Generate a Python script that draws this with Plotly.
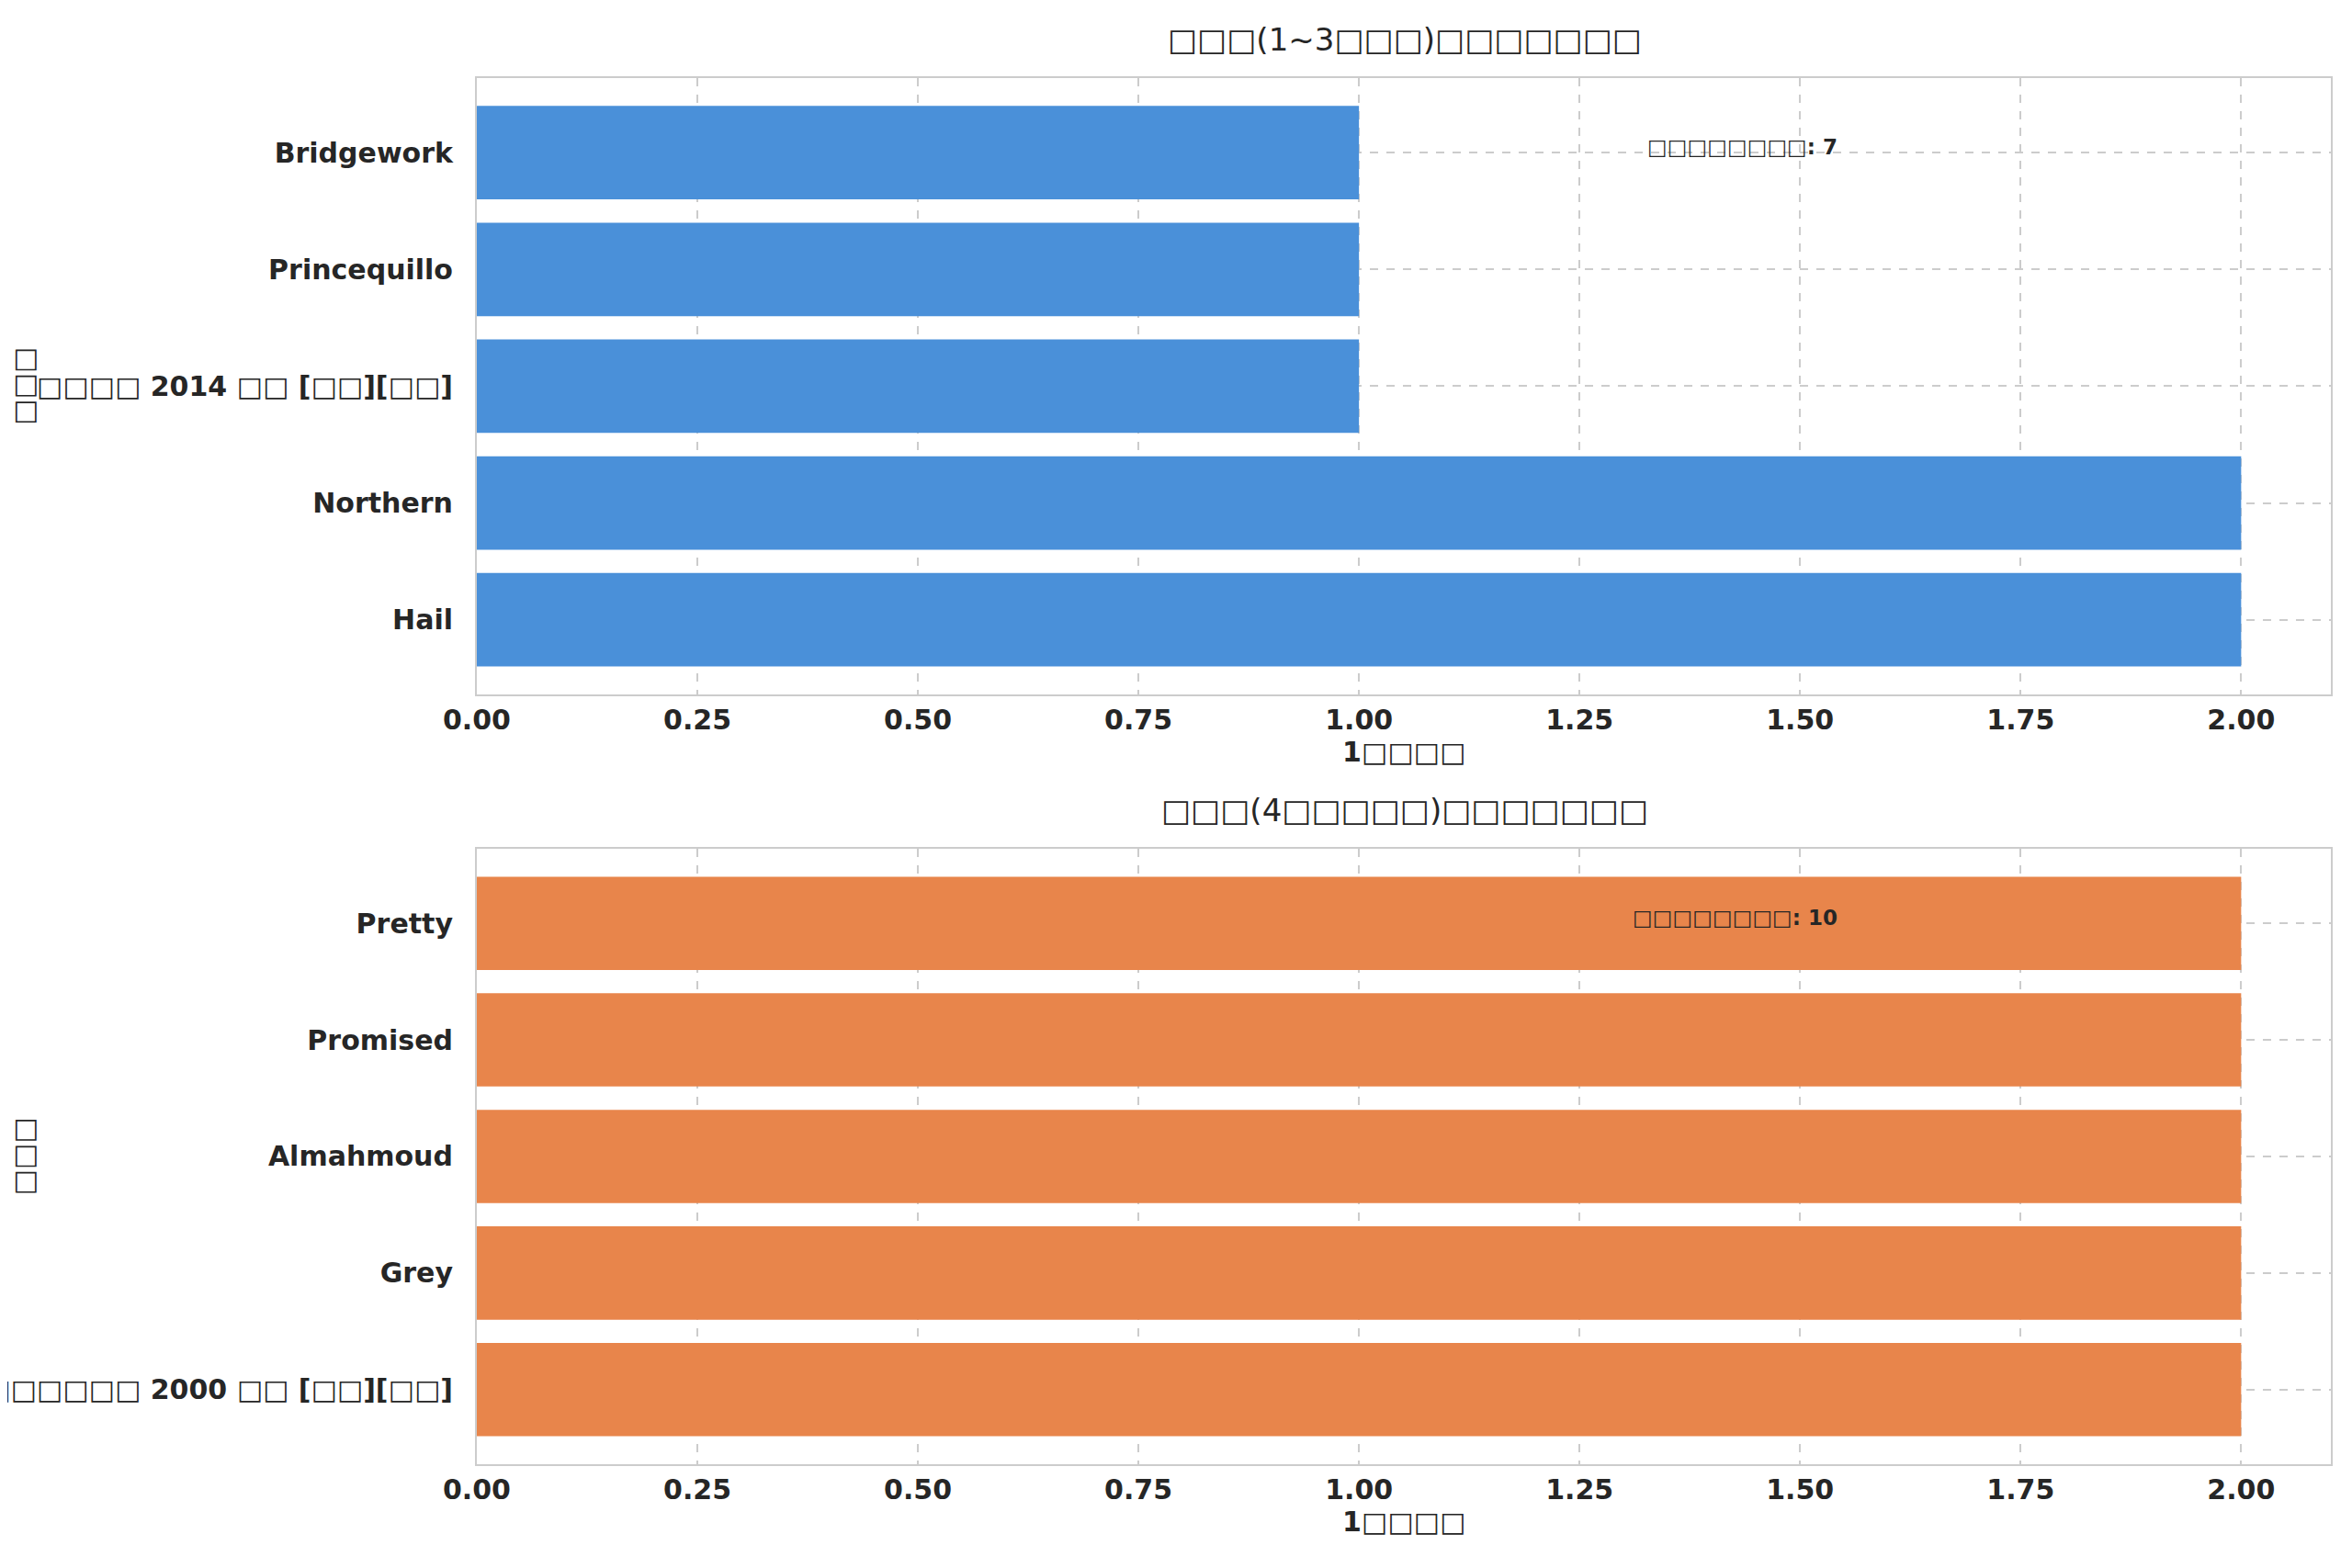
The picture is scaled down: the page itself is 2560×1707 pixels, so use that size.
import plotly.graph_objects as go
from plotly.subplots import make_subplots

# CJK glyphs in the reference render as missing-glyph boxes
top_names = ["Hail", "Northern", "□□□□ 2014 □□ [□□][□□]", "Princequillo", "Bridgework"]
top_values = [2, 2, 1, 1, 1]
bottom_names = ["□□□□□□□□□ 2000 □□ [□□][□□]", "Grey", "Almahmoud", "Promised", "Pretty"]
bottom_values = [2, 2, 2, 2, 2]
titles = ["□□□(1~3□□□)□□□□□□□", "□□□(4□□□□□)□□□□□□□"]
notes = ["□□□□□□□□: 7", "□□□□□□□□: 10"]
xlab = "1□□□□"
ylab = "□□□"
colors = ["#4a90d9", "#e8854b"]

fig = make_subplots(rows=2, cols=1)
font = "DejaVu Sans"
for i, (names, vals) in enumerate([(top_names, top_values), (bottom_names, bottom_values)]):
    fig.add_trace(go.Bar(x=vals, y=names, orientation="h", marker_color=colors[i],
                         marker_line_width=0, width=0.8, showlegend=False), row=i + 1, col=1)

doms = [[0.5618, 0.955], [0.0709, 0.4634]]
for i in range(2):
    ax = "" if i == 0 else "2"
    fig.layout["xaxis" + ax].update(
        domain=[0.1996, 0.988], range=[0, 2.102], automargin=False,
        tickvals=[0, 0.25, 0.5, 0.75, 1, 1.25, 1.5, 1.75, 2],
        ticktext=["0.00", "0.25", "0.50", "0.75", "1.00", "1.25", "1.50", "1.75", "2.00"],
        showgrid=True, gridcolor="#cccccc", griddash="dash", gridwidth=2, zeroline=False,
        showline=True, linecolor="#cccccc", linewidth=2, mirror=True, ticks="",
        tickfont=dict(size=30, family=font, color="#262626", weight="bold"),
        title=dict(text=xlab, font=dict(size=30, family=font, color="#262626", weight="bold"), standoff=6))
    fig.layout["yaxis" + ax].update(
        domain=doms[i], range=[-0.64, 4.64], automargin=False, showgrid=True, gridcolor="#cccccc",
        griddash="dash", gridwidth=2, showline=True, linecolor="#cccccc", linewidth=2, mirror=True,
        ticks="", ticklabelstandoff=18, tickfont=dict(size=30, family=font, color="#262626", weight="bold"),
        title=dict(text=ylab, font=dict(size=30, family=font, color="#262626", weight="bold")))
    fig.add_annotation(text=notes[i], xref="x" + ax + " domain", yref="y" + ax + " domain",
                       x=0.735, y=0.91, showarrow=False,
                       font=dict(size=23, family=font, color="#262626", weight="bold"))
    fig.add_annotation(text=titles[i], xref="paper", yref="paper", x=0.594, y=doms[i][1] + 0.0115,
                       xanchor="center", yanchor="bottom", showarrow=False,
                       font=dict(size=34, family=font, color="#262626"))

fig.update_layout(width=2560, height=1707, margin=dict(l=0, r=0, t=0, b=0),
                  plot_bgcolor="white", paper_bgcolor="white", bargap=0.2)
fig.write_html("out.html")
